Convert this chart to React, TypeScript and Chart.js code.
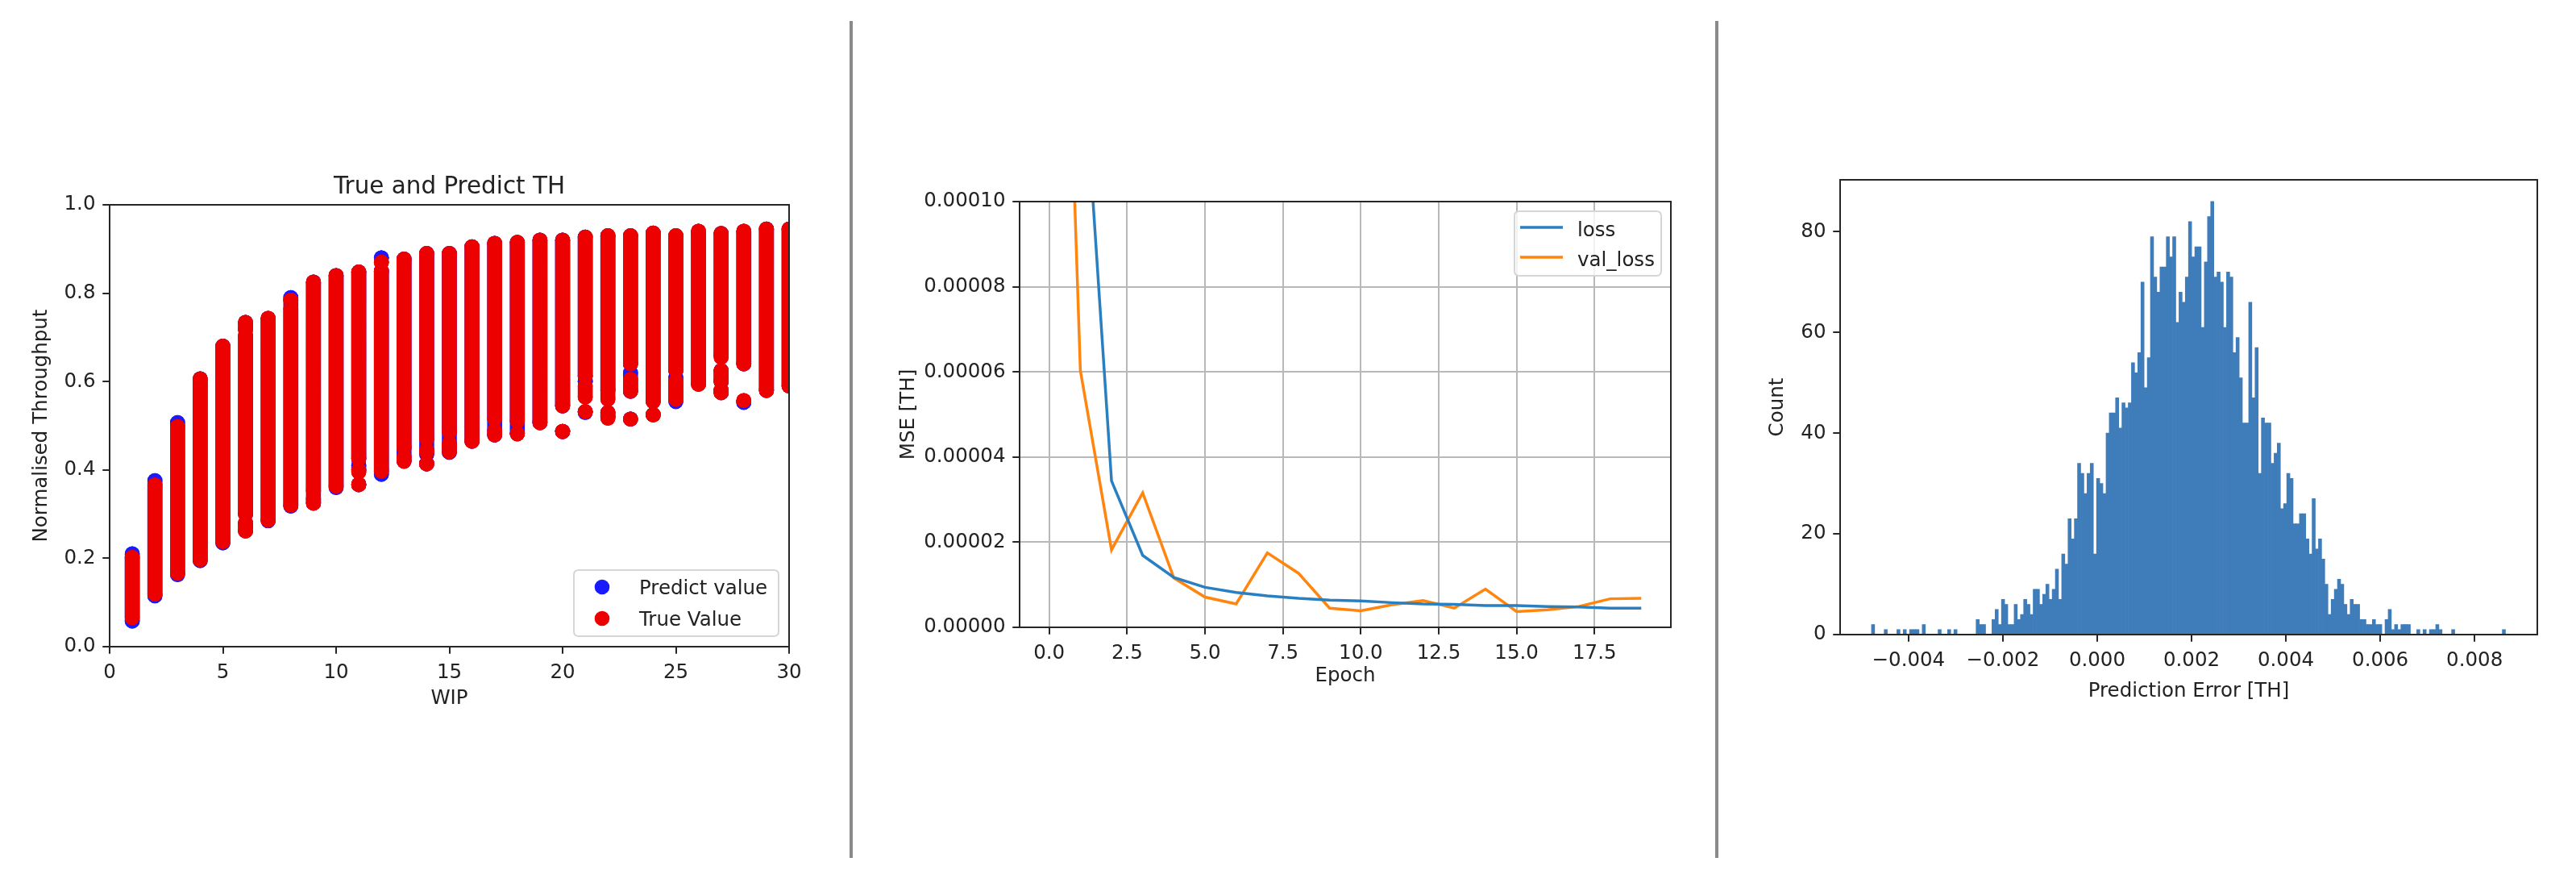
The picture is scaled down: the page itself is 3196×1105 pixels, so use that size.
import React, { useEffect, useRef } from "react";
import { Chart, registerables } from "chart.js";

Chart.register(...registerables);

const FONT_FAMILY = "'DejaVu Sans', 'Liberation Sans', Arial, sans-serif";
const FONT_SIZE = 24.5;
const TITLE_SIZE = 29.4;
const TEXT_COLOR = "#222222";
const SPINE_COLOR = "#262626";

// ---------------- Panel 1: True and Predict TH ----------------
const wipValues = [1, 2, 3, 4, 5, 6, 7, 8, 9, 10, 11, 12, 13, 14, 15, 16, 17, 18, 19, 20, 21, 22, 23, 24, 25, 26, 27, 28, 29, 30];
// vertical runs of overlapping markers per WIP: [low, high]
const trueValueSegments: number[][][] = [
  [[0.066, 0.202]],
  [[0.119, 0.366]],
  [[0.166, 0.498]],
  [[0.197, 0.606]],
  [[0.238, 0.68]],
  [[0.262, 0.28], [0.3, 0.7], [0.718, 0.734]],
  [[0.286, 0.743]],
  [[0.32, 0.765], [0.784, 0.784]],
  [[0.325, 0.335], [0.352, 0.825]],
  [[0.363, 0.84]],
  [[0.367, 0.367], [0.395, 0.4], [0.425, 0.848]],
  [[0.397, 0.85], [0.87, 0.87]],
  [[0.42, 0.43], [0.45, 0.877]],
  [[0.414, 0.414], [0.44, 0.445], [0.47, 0.89]],
  [[0.441, 0.46], [0.485, 0.89]],
  [[0.465, 0.905]],
  [[0.479, 0.49], [0.515, 0.913]],
  [[0.482, 0.482], [0.51, 0.915]],
  [[0.507, 0.92]],
  [[0.487, 0.487], [0.545, 0.92]],
  [[0.532, 0.532], [0.565, 0.59], [0.612, 0.927]],
  [[0.517, 0.53], [0.56, 0.93]],
  [[0.515, 0.515], [0.578, 0.605], [0.64, 0.93]],
  [[0.525, 0.525], [0.555, 0.936]],
  [[0.56, 0.6], [0.625, 0.93]],
  [[0.594, 0.94]],
  [[0.575, 0.58], [0.6, 0.625], [0.655, 0.935]],
  [[0.557, 0.557], [0.64, 0.94]],
  [[0.58, 0.945]],
  [[0.59, 0.945]],
];
const predictValueSegments: number[][][] = [
  [[0.058, 0.21]],
  [[0.115, 0.376]],
  [[0.163, 0.507]],
  [[0.195, 0.606]],
  [[0.235, 0.68]],
  [[0.262, 0.28], [0.3, 0.705], [0.718, 0.734]],
  [[0.285, 0.743]],
  [[0.318, 0.79]],
  [[0.325, 0.825]],
  [[0.36, 0.84]],
  [[0.367, 0.367], [0.4, 0.41], [0.425, 0.848]],
  [[0.39, 0.85], [0.88, 0.88]],
  [[0.42, 0.877]],
  [[0.414, 0.414], [0.435, 0.89]],
  [[0.44, 0.89]],
  [[0.465, 0.905]],
  [[0.479, 0.913]],
  [[0.482, 0.915]],
  [[0.507, 0.92]],
  [[0.487, 0.487], [0.545, 0.92]],
  [[0.53, 0.532], [0.6, 0.6], [0.612, 0.927]],
  [[0.52, 0.53], [0.58, 0.93]],
  [[0.515, 0.515], [0.578, 0.62], [0.64, 0.93]],
  [[0.525, 0.525], [0.555, 0.936]],
  [[0.555, 0.61], [0.625, 0.93]],
  [[0.594, 0.94]],
  [[0.575, 0.58], [0.6, 0.625], [0.66, 0.935]],
  [[0.553, 0.553], [0.64, 0.94]],
  [[0.58, 0.945]],
  [[0.59, 0.945]],
];
const wipTicks = [0, 5, 10, 15, 20, 25, 30];
const throughputTicks = [0, 0.2, 0.4, 0.6, 0.8, 1.0];

// ---------------- Panel 2: training history ----------------
const epochs = [0, 1, 2, 3, 4, 5, 6, 7, 8, 9, 10, 11, 12, 13, 14, 15, 16, 17, 18, 19];
const lossValues = [0.0021, 0.000145, 0.0000344, 0.0000169, 0.0000117, 0.0000094, 0.0000082, 0.0000074, 0.0000068, 0.0000064, 0.0000062, 0.0000058, 0.0000055, 0.0000054, 0.0000051, 0.0000051, 0.0000049, 0.0000048, 0.0000045, 0.0000045];
const valLossValues = [0.00028, 0.0000603, 0.0000182, 0.0000316, 0.0000116, 0.0000071, 0.0000055, 0.0000175, 0.0000127, 0.0000045, 0.0000039, 0.0000053, 0.0000063, 0.0000045, 0.000009, 0.0000037, 0.0000041, 0.0000049, 0.0000067, 0.0000068];
const epochTicks = [0, 2.5, 5, 7.5, 10, 12.5, 15, 17.5];
const mseTicks = [0, 0.00002, 0.00004, 0.00006, 0.00008, 0.0001];

// ---------------- Panel 3: error histogram ----------------
const histStart = -0.004785;
const histBinWidth = 0.0000672;
const histCounts = [
  2, 0, 0, 0, 1, 0, 0, 0, 1, 0, 1, 0, 1, 1, 1, 0, 2, 0, 0, 0, 0, 1, 0, 0, 1, 0, 1, 0, 0, 0, 0, 0, 0,
  3, 2, 2, 0, 0, 3, 5, 2, 7, 6, 2, 2, 6, 3, 4, 7, 6, 4, 9, 9, 6, 8, 10, 7, 9, 13, 7, 16,
  14, 23, 19, 23, 34, 32, 28, 32, 34, 16, 31, 30, 28, 40, 44, 44, 47, 41, 46, 45, 46, 54, 52, 56, 70, 49, 55, 79,
  71, 68, 73, 73, 79, 75, 79, 62, 68, 66, 71, 82, 75, 77, 77, 61, 74, 83, 86, 71, 72, 70, 61, 72, 71, 56, 59, 51, 42, 42, 66,
  47, 57, 32, 43, 42, 42, 34, 36, 38, 25, 26, 32, 31, 22, 22, 24, 24, 19, 16, 27, 17, 19, 15, 10, 4, 7, 9, 11, 10,
  6, 4, 7, 6, 6, 3, 3, 2, 2, 3, 2, 2, 0, 3, 5, 1, 2, 1, 2, 2, 2, 0, 0, 1, 0, 1, 0, 1, 1, 2, 1, 0, 0, 0, 1,
  0, 0, 0, 0, 0, 0, 0, 0, 0, 0, 0, 0, 0, 0, 0, 1,
];
const errorTicks = [-0.004, -0.002, 0, 0.002, 0.004, 0.006, 0.008];
const countTicks = [0, 20, 40, 60, 80];

// ---------------- helpers ----------------
const RED = "#ec0000";
const BLUE = "#1a1aff";
const LOSS_BLUE = "#2a7fc0";
const VAL_ORANGE = "#ff850f";
const HIST_BLUE = "#3f7cba";

const font = (size: number) => ({ family: FONT_FAMILY, size, lineHeight: 1.2 });

function segmentPoints(xs: number[], segs: number[][][]) {
  const pts: { x: number; y: number | null }[] = [];
  xs.forEach((x, i) => {
    segs[i].forEach(([lo, hi]) => {
      pts.push({ x, y: lo });
      pts.push({ x, y: hi });
      pts.push({ x, y: null });
    });
  });
  return pts;
}

function makeAxis(o: {
  position: "left" | "bottom";
  min: number;
  max: number;
  ticks: number[];
  format: (v: number) => string;
  title: string;
  titlePad: number;
  size: number;
  grid?: boolean;
}) {
  const horizontal = o.position === "bottom";
  return {
    type: "linear",
    position: o.position,
    min: o.min,
    max: o.max,
    afterBuildTicks: (scale: any) => {
      scale.ticks = o.ticks.map((v) => ({ value: v }));
    },
    afterFit: (scale: any) => {
      if (horizontal) scale.height = o.size;
      else scale.width = o.size;
    },
    ticks: {
      autoSkip: false,
      maxRotation: 0,
      minRotation: 0,
      padding: 8.75,
      color: TEXT_COLOR,
      font: font(FONT_SIZE),
      callback: (v: any) => o.format(Number(v)),
    },
    grid: {
      display: true,
      drawOnChartArea: !!o.grid,
      color: "#b8b8b8",
      lineWidth: 2,
      drawTicks: true,
      tickLength: 8.75,
      tickWidth: 2,
      tickColor: SPINE_COLOR,
    },
    border: { display: false },
    title: {
      display: true,
      text: o.title,
      color: TEXT_COLOR,
      font: font(FONT_SIZE),
      padding: horizontal ? { top: 0, bottom: 0 } : { top: o.titlePad, bottom: 0 },
    },
  };
}

function roundRect(ctx: CanvasRenderingContext2D, x: number, y: number, w: number, h: number, r: number) {
  ctx.beginPath();
  ctx.moveTo(x + r, y);
  ctx.lineTo(x + w - r, y);
  ctx.quadraticCurveTo(x + w, y, x + w, y + r);
  ctx.lineTo(x + w, y + h - r);
  ctx.quadraticCurveTo(x + w, y + h, x + w - r, y + h);
  ctx.lineTo(x + r, y + h);
  ctx.quadraticCurveTo(x, y + h, x, y + h - r);
  ctx.lineTo(x, y + r);
  ctx.quadraticCurveTo(x, y, x + r, y);
  ctx.closePath();
}

const framePlugin = {
  id: "frame",
  afterDraw(chart: any) {
    const { ctx, chartArea: a } = chart;
    ctx.save();
    ctx.strokeStyle = SPINE_COLOR;
    ctx.lineWidth = 2;
    ctx.strokeRect(a.left, a.top, a.right - a.left, a.bottom - a.top);
    ctx.restore();
  },
};

function drawLegendBox(ctx: CanvasRenderingContext2D, x: number, y: number, w: number, h: number) {
  roundRect(ctx, x, y, w, h, 6);
  ctx.fillStyle = "rgba(255,255,255,0.8)";
  ctx.fill();
  ctx.strokeStyle = "#d6d6d6";
  ctx.lineWidth = 2;
  ctx.stroke();
}

const panel1Deco = {
  id: "panel1Deco",
  afterDraw(chart: any) {
    const { ctx, chartArea: a } = chart;
    ctx.save();
    // title
    ctx.fillStyle = TEXT_COLOR;
    ctx.font = `${TITLE_SIZE}px ${FONT_FAMILY}`;
    ctx.textAlign = "center";
    ctx.textBaseline = "alphabetic";
    ctx.fillText("True and Predict TH", (a.left + a.right) / 2, a.top - 14.3);
    // legend
    const w = 254, h = 82;
    const bx = a.right - 13 - w, by = a.bottom - 13 - h;
    drawLegendBox(ctx, bx, by, w, h);
    const rows = [by + 21, by + 60];
    ctx.font = `${FONT_SIZE}px ${FONT_FAMILY}`;
    ctx.textAlign = "left";
    chart.data.datasets.forEach((ds: any, i: number) => {
      ctx.beginPath();
      ctx.arc(bx + 35, rows[i], 9.3, 0, Math.PI * 2);
      ctx.fillStyle = ds.backgroundColor;
      ctx.fill();
      ctx.fillStyle = TEXT_COLOR;
      ctx.fillText(ds.label, bx + 81, rows[i] + 9);
    });
    ctx.restore();
  },
};

const panel2Deco = {
  id: "panel2Deco",
  afterDraw(chart: any) {
    const { ctx, chartArea: a } = chart;
    ctx.save();
    const w = 182, h = 80;
    const bx = a.right - 12 - w, by = a.top + 12;
    drawLegendBox(ctx, bx, by, w, h);
    const rows = [by + 20, by + 57];
    ctx.font = `${FONT_SIZE}px ${FONT_FAMILY}`;
    ctx.textAlign = "left";
    ctx.textBaseline = "alphabetic";
    chart.data.datasets.forEach((ds: any, i: number) => {
      ctx.beginPath();
      ctx.moveTo(bx + 7, rows[i]);
      ctx.lineTo(bx + 60, rows[i]);
      ctx.strokeStyle = ds.borderColor;
      ctx.lineWidth = 3.5;
      ctx.stroke();
      ctx.fillStyle = TEXT_COLOR;
      ctx.fillText(ds.label, bx + 78, rows[i] + 11);
    });
    ctx.restore();
  },
};

const baseOptions = {
  responsive: false,
  maintainAspectRatio: false,
  animation: false,
  events: [],
  devicePixelRatio: 1,
};

const H = 1105;

export default function App() {
  const c1 = useRef<HTMLCanvasElement>(null);
  const c2 = useRef<HTMLCanvasElement>(null);
  const c3 = useRef<HTMLCanvasElement>(null);

  useEffect(() => {
    const charts: Chart[] = [];

    // Panel 1
    charts.push(
      new Chart(c1.current!, {
        type: "scatter",
        data: {
          datasets: [
            {
              label: "Predict value",
              data: segmentPoints(wipValues, predictValueSegments),
              showLine: true,
              spanGaps: false,
              borderColor: BLUE,
              backgroundColor: BLUE,
              borderWidth: 18.6,
              borderCapStyle: "round",
              pointRadius: 9.3,
              pointBorderWidth: 0,
              pointBackgroundColor: BLUE,
              clip: 0,
              order: 2,
            },
            {
              label: "True Value",
              data: segmentPoints(wipValues, trueValueSegments),
              showLine: true,
              spanGaps: false,
              borderColor: RED,
              backgroundColor: RED,
              borderWidth: 18.6,
              borderCapStyle: "round",
              pointRadius: 9.3,
              pointBorderWidth: 0,
              pointBackgroundColor: RED,
              clip: 0,
              order: 1,
            },
          ],
        } as any,
        options: {
          ...baseOptions,
          layout: { padding: { left: 0, top: 254, right: 71, bottom: 223.6 } },
          plugins: { legend: { display: false }, tooltip: { enabled: false }, title: { display: false } },
          scales: {
            x: makeAxis({ position: "bottom", min: 0, max: 30, ticks: wipTicks, format: (v) => String(Math.round(v)), title: "WIP", titlePad: 0, size: 79.4 }),
            y: makeAxis({ position: "left", min: 0, max: 1, ticks: throughputTicks, format: (v) => v.toFixed(1), title: "Normalised Throughput", titlePad: 37, size: 136 }),
          },
        } as any,
        plugins: [framePlugin, panel1Deco],
      })
    );

    // Panel 2
    charts.push(
      new Chart(c2.current!, {
        type: "line",
        data: {
          datasets: [
            {
              label: "loss",
              data: epochs.map((e, i) => ({ x: e, y: lossValues[i] })),
              borderColor: LOSS_BLUE,
              backgroundColor: LOSS_BLUE,
              borderWidth: 3.5,
              pointRadius: 0,
              tension: 0,
              clip: 0,
            },
            {
              label: "val_loss",
              data: epochs.map((e, i) => ({ x: e, y: valLossValues[i] })),
              borderColor: VAL_ORANGE,
              backgroundColor: VAL_ORANGE,
              borderWidth: 3.5,
              pointRadius: 0,
              tension: 0,
              clip: 0,
            },
          ],
        } as any,
        options: {
          ...baseOptions,
          layout: { padding: { left: 0, top: 250, right: 53, bottom: 251.6 } },
          plugins: { legend: { display: false }, tooltip: { enabled: false }, title: { display: false } },
          scales: {
            x: makeAxis({ position: "bottom", min: -0.95, max: 19.95, ticks: epochTicks, format: (v) => v.toFixed(1), title: "Epoch", titlePad: 0, size: 75.4, grid: true }),
            y: makeAxis({ position: "left", min: 0, max: 0.0001, ticks: mseTicks, format: (v) => v.toFixed(5), title: "MSE [TH]", titlePad: 53, size: 205, grid: true }),
          },
        } as any,
        plugins: [framePlugin, panel2Deco],
      })
    );

    // Panel 3
    const histData = histCounts.map((c, i) => ({ x: histStart + (i + 0.5) * histBinWidth, y: c }));
    const xAxis3: any = makeAxis({
      position: "bottom",
      min: -0.00545,
      max: 0.00933,
      ticks: errorTicks,
      format: (v) => (Math.abs(v) < 1e-12 ? "0.000" : (v < 0 ? "\u2212" : "") + Math.abs(v).toFixed(3)),
      title: "Prediction Error [TH]",
      titlePad: 0,
      size: 85.4,
    });
    xAxis3.offset = false;
    xAxis3.grid.offset = false;
    charts.push(
      new Chart(c3.current!, {
        type: "bar",
        data: {
          datasets: [
            {
              label: "Count",
              data: histData,
              backgroundColor: HIST_BLUE,
              borderWidth: 0,
              barPercentage: 1.0,
              categoryPercentage: 1.0,
              clip: 0,
            },
          ],
        } as any,
        options: {
          ...baseOptions,
          layout: { padding: { left: 0, top: 223, right: 48, bottom: 232.6 } },
          plugins: { legend: { display: false }, tooltip: { enabled: false }, title: { display: false } },
          scales: {
            x: xAxis3,
            y: makeAxis({ position: "left", min: 0, max: 90.3, ticks: countTicks, format: (v) => String(Math.round(v)), title: "Count", titlePad: 57, size: 149 }),
          },
        } as any,
        plugins: [framePlugin],
      })
    );

    return () => charts.forEach((c) => c.destroy());
  }, []);

  const abs = (left: number, width: number): React.CSSProperties => ({ position: "absolute", left, top: 0, width, height: H });

  return (
    <div style={{ position: "absolute", left: 0, top: 0, width: 3196, height: H, background: "#ffffff", overflow: "hidden" }}>
      <canvas ref={c1} width={1050} height={H} style={abs(0, 1050)} />
      <div style={{ position: "absolute", left: 1054, top: 26, width: 4, height: 1038, background: "#8a8a8a" }} />
      <canvas ref={c2} width={1066} height={H} style={abs(1060, 1066)} />
      <div style={{ position: "absolute", left: 2128, top: 26, width: 4, height: 1038, background: "#8a8a8a" }} />
      <canvas ref={c3} width={1062} height={H} style={abs(2134, 1062)} />
    </div>
  );
}
